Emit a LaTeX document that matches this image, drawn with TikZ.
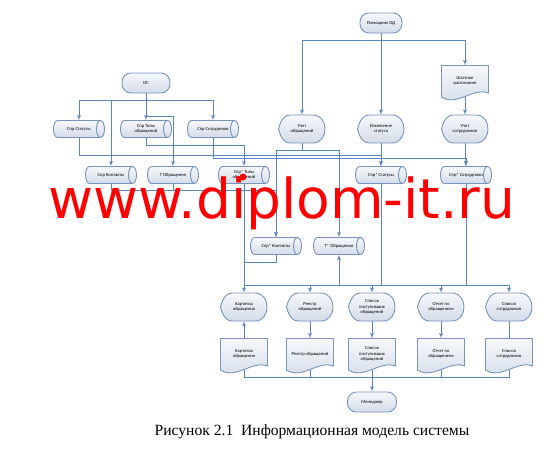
\documentclass[tikz,border=0pt]{standalone}
\usepackage{fontspec}
\setmainfont{Carlito}
\newfontfamily\capfont{Liberation Serif}
\newfontfamily\wmfont{DejaVu Sans}
\usepackage{xcolor}
\usetikzlibrary{shapes,arrows}

\definecolor{lineblue}{HTML}{5B85C0}
\definecolor{edgeblue}{HTML}{7A93BC}
\definecolor{filltop}{HTML}{F6F8FB}
\definecolor{fillbot}{HTML}{D3DCE9}
\newcommand{\fs}{\fontsize{4.6}{5.4}\selectfont}

% display shape: name, position, text
\newcommand{\dispnode}[3]{%
  \draw[shapeline, shift={#2}]
    (-23.5,0) .. controls (-21,-10) and (-17,-14) .. (-12,-14) -- (11,-14)
    .. controls (27,-14) and (27,14) .. (11,14) -- (-12,14)
    .. controls (-17,14) and (-21,10) .. (-23.5,0) -- cycle;
  \node[holder] (#1) at #2 {#3};}
% document shape: name, position, text
\newcommand{\docnode}[3]{%
  \draw[shapeline, shift={#2}]
    (-23.5,-15.5) -- (23.5,-15.5) -- (23.5,12)
    .. controls (8,6) and (-8,26) .. (-23.5,16) -- cycle;
  \node[holder, minimum height=31pt] (#1) at #2 {#3};}
% stored data shape (lying cylinder): name, position, text
\newcommand{\basenode}[3]{%
  \draw[shapeline, shift={#2}]
    (-21.5,-8.5) -- (21.5,-8.5)
    arc[start angle=-90, end angle=90, x radius=4, y radius=8.5]
    -- (-21.5,8.5)
    arc[start angle=90, end angle=270, x radius=4, y radius=8.5] -- cycle;
  \draw[draw=edgeblue, line width=0.9pt, shift={#2}]
    (21.5,-8.5) arc[start angle=-90, end angle=-270, x radius=4, y radius=8.5];
  \node[holder, minimum width=51pt, minimum height=17pt] (#1) at #2 {#3};}

\begin{document}
\begin{tikzpicture}[x=1pt, y=-1pt,
    shapeline/.style ={draw=edgeblue, line width=0.9pt,
      top color=filltop, bottom color=fillbot},
    term/.style ={rectangle, rounded corners=9pt, shapeline,
      minimum height=20pt, font=\fs, inner sep=1pt},
    holder/.style ={rectangle, minimum width=47pt, minimum height=28pt,
      inner sep=0pt, font=\fs, align=center},
    conn/.style ={draw=lineblue, line width=0.8pt},
    arr/.style ={conn, -latex'}]
    \useasboundingbox (0,0) rectangle (560,450);
    % top row
    \node [term, minimum width=48pt] (is) at (146,83) {ИС};
    \node [term, minimum width=42pt] (pom) at (381,23) {Помощник ОД};
    \docnode{shtat}{(465,81)}{Штатное\\расписание}
    % reference tables
    \basenode{sprStat}{(79,129)}{Спр Статусы}
    \basenode{sprTip}{(146,129)}{Спр Типы\\обращений}
    \basenode{sprSotr}{(213,129)}{Спр Сотрудники}
    \dispnode{uchObr}{(302,129)}{Учет\\обращений}
    \dispnode{izm}{(381,129)}{Изменение\\статуса}
    \dispnode{uchSotr}{(465,129)}{Учет\\сотрудников}
    \basenode{sprKont}{(111,175)}{Спр Контакты}
    \basenode{tObr}{(173,175)}{Т Обращения}
    \basenode{sprsTip}{(244,175)}{Спр* Типы\\обращений}
    \basenode{sprsStat}{(381,175)}{Спр* Статусы}
    \basenode{sprsSotr}{(466,175)}{Спр* Сотрудники}
    \basenode{sprsKont}{(276,246)}{Спр* Контакты}
    \basenode{tsObr}{(339,246)}{Т* Обращения}
    % output forms
    \dispnode{kartD}{(244,307)}{Карточка\\обращения}
    \dispnode{reestrD}{(310,307)}{Реестр\\обращений}
    \dispnode{spisD}{(372,307)}{Список\\поступивших\\обращений}
    \dispnode{otchD}{(441,307)}{Отчет по\\обращениям}
    \dispnode{sotrD}{(509,307)}{Список\\сотрудников}
    \docnode{kartDoc}{(244,354)}{Карточка\\обращения}
    \docnode{reestrDoc}{(310,354)}{Реестр обращений}
    \docnode{spisDoc}{(372,354)}{Список\\поступивших\\обращений}
    \docnode{otchDoc}{(441,354)}{Отчет по\\обращениям}
    \docnode{sotrDoc}{(509,354)}{Список\\сотрудников}
    \node [term, minimum width=49pt] (man) at (372,402) {Менеджер};
    % junction points
    \coordinate (jIS) at (146,100);
    \coordinate (jIS2) at (146,116);
    \coordinate (jPom) at (381,40);
    \coordinate (jTip) at (146,145);
    \coordinate (jUch) at (302,150);
    \coordinate (jStat) at (79,155);
    \coordinate (jSotr) at (213,158);
    \coordinate (jKont) at (111,190);
    \coordinate (jTobr) at (173,190);
    \coordinate (jKart) at (244,262);
    \coordinate (busL) at (244,285);
    \coordinate (busR) at (509,285);
    \coordinate (jMan) at (372,377);
    % connecting nodes with paths
    \draw [arr] (is) -- (sprTip);
    \draw [arr] (jIS) -| (sprStat);
    \draw [arr] (jIS) -| (sprSotr);
    \draw [arr] (jIS) -| (sprKont);
    \draw [arr] (jIS2) -| (tObr);
    \draw [arr] (pom) -- (izm);
    \draw [arr] (jPom) -| (uchObr);
    \draw [arr] (jPom) -| (shtat);
    \draw [arr] (shtat) -- (uchSotr);
    \draw [arr] (sprTip) -- (jTip) -| (sprsTip);
    \draw [arr] (sprStat) -- (jStat) -| (sprsStat);
    \draw [arr] (sprSotr) -- (jSotr) -| (sprsSotr);
    \draw [arr] (izm) -- (sprsStat);
    \draw [arr] (uchSotr) -- (sprsSotr);
    \draw [conn] (uchObr) -- (jUch);
    \draw [arr] (jUch) -| (sprsKont);
    \draw [arr] (jUch) -| (tsObr);
    \draw [arr] (sprKont) -- (jKont) -| (sprsKont);
    \draw [conn] (tObr) -- (jTobr);
    \draw [arr] (sprsTip) -- (kartD);
    \draw [conn] (sprsKont) |- (jKart);
    \draw [conn] (busL) -- (busR);
    \draw [conn] (sprsStat) -- (sprsStat |- busL);
    \draw [conn] (sprsSotr) -- (sprsSotr |- busL);
    \draw [arr] (tsObr |- busL) -- (tsObr);
    \draw [arr] (reestrD |- busL) -- (reestrD);
    \draw [arr] (spisD |- busL) -- (spisD);
    \draw [arr] (otchD |- busL) -- (otchD);
    \draw [arr] (sotrD |- busL) -- (sotrD);
    \draw [arr] (kartDoc) -- (kartD);
    \draw [arr] (reestrD) -- (reestrDoc);
    \draw [arr] (spisD) -- (spisDoc);
    \draw [arr] (otchD) -- (otchDoc);
    \draw [conn] (sotrD) -- (sotrDoc);
    \draw [conn] (kartDoc) |- (jMan);
    \draw [conn] (reestrDoc) |- (jMan);
    \draw [conn] (otchDoc) |- (jMan);
    \draw [conn] (sotrDoc) |- (jMan);
    \draw [arr] (spisDoc) -- (man);
    % watermark and caption
    \node [font=\wmfont\fontsize{55}{60}\selectfont, text=red, anchor=base,
      inner sep=0pt] (wmark) at (282,218) {www.diplom-it.ru};
    \fill [red] (243,177) circle (3.5);
    \node [font=\capfont\fontsize{15.6}{18}\selectfont] (cap) at (312,432)
      {Рисунок 2.1\ \ Информационная модель системы};
\end{tikzpicture}
\end{document}
